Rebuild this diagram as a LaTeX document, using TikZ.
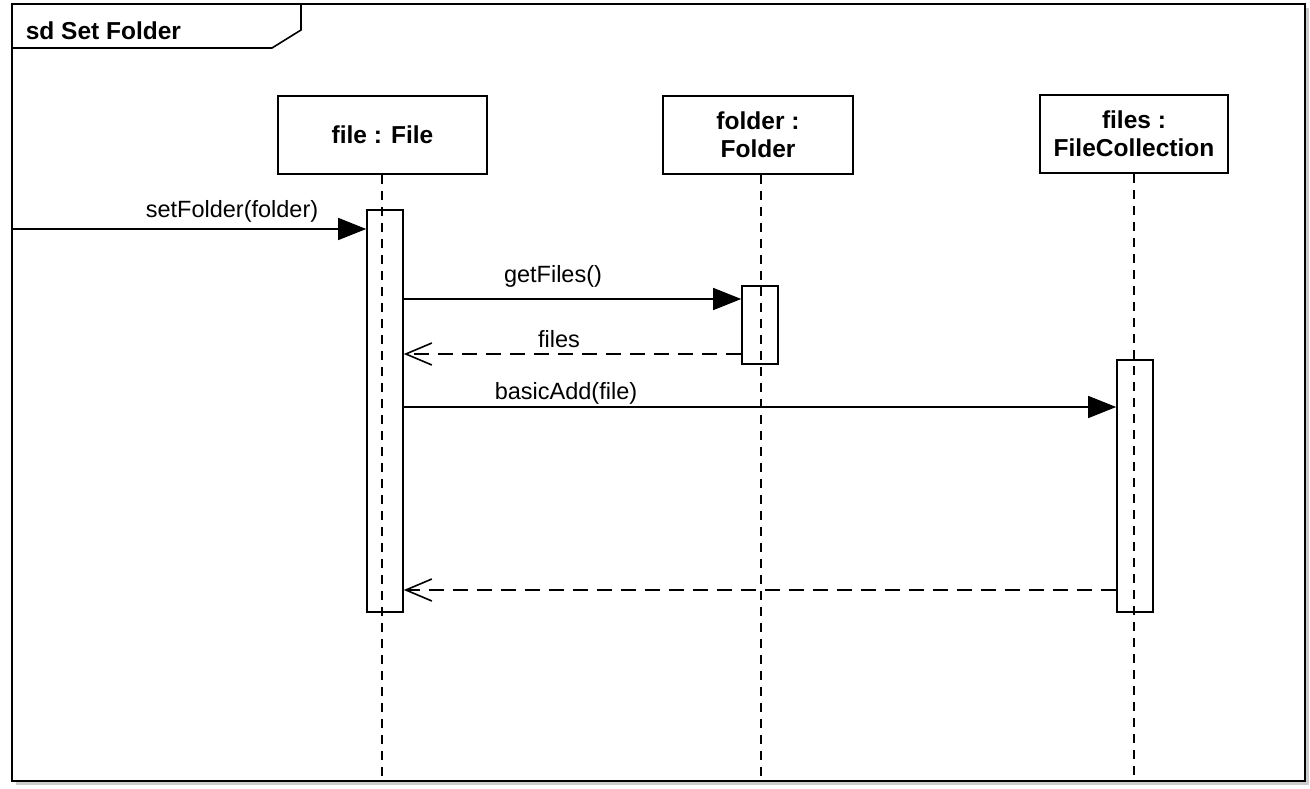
\documentclass[tikz,border=0pt]{standalone}
\usepackage{fontspec}
\setmainfont{Liberation Sans}
\usetikzlibrary{arrows.meta,shadows}

\begin{document}
\begin{tikzpicture}[x=1pt, y=-1pt, line width=1.6pt,
    head/.style={draw=black, fill=white, align=center, inner sep=0pt, minimum height=78pt,
        font=\bfseries\fontsize{24.5}{28}\selectfont},
    bar/.style={draw=black, inner sep=0pt, minimum width=36pt},
    label/.style={font=\fontsize{23.5}{27}\selectfont, inner sep=0pt},
    lifeline/.style={dash pattern=on 9pt off 7pt},
    call/.style={-{Triangle[length=28pt, width=22pt]}},
    reply/.style={dash pattern=on 15pt off 9pt, -{Straight Barb[length=26pt, width=22pt]}}]
        \useasboundingbox (0,0) rectangle (1310,789);

        \node[draw=black, fill=white, inner sep=0pt, minimum width=1293pt, minimum height=777pt,
            drop shadow={shadow xshift=4pt, shadow yshift=-4pt, fill=black!40}] (frame) at (658.5,392.5) {};
        \node[anchor=west, font=\bfseries\fontsize{24.5}{28}\selectfont, inner sep=0pt] (title) at (25,31) {sd Set Folder};
        \draw (frame.west |- 0,48) -- (272,48) -- (301,30) -- (301,4);   % name tab

        \node[head, minimum width=209pt] (file) at (382.5,135) {file : File};
        \node[head, minimum width=190pt] (folder) at (758,135) {folder :\\Folder};
        \node[head, minimum width=188pt] (files) at (1134,134) {files :\\FileCollection};

        \draw[lifeline] (file.south -| 382,0) -- (382,781);
        \draw[lifeline] (folder.south -| 761,0) -- (761,781);
        \draw[lifeline] (files.south) -- (1134,781);

        \node[bar, minimum height=402pt] (fileBar) at (385,411) {};
        \node[bar, minimum height=78pt] (folderBar) at (760,325) {};
        \node[bar, minimum height=252pt] (filesBar) at (1135,486) {};

        \draw[call] (frame.west |- 0,229) -- (fileBar.west |- 0,229);
        \draw[call] (fileBar.east |- 0,299) -- (folderBar.west |- 0,299);
        \draw[reply] (folderBar.west |- 0,354) -- (fileBar.east |- 0,354);
        \draw[call] (fileBar.east |- 0,407) -- (filesBar.west |- 0,407);
        \draw[reply] (filesBar.west |- 0,590) -- (fileBar.east |- 0,590);

        \node[label] (setFolder) at (232,211) {setFolder(folder)};
        \node[label] (getFiles) at (553,276) {getFiles()};
        \node[label] (filesRet) at (559,339) {files};
        \node[label] (basicAdd) at (566,393) {basicAdd(file)};
    \end{tikzpicture}
\end{document}
